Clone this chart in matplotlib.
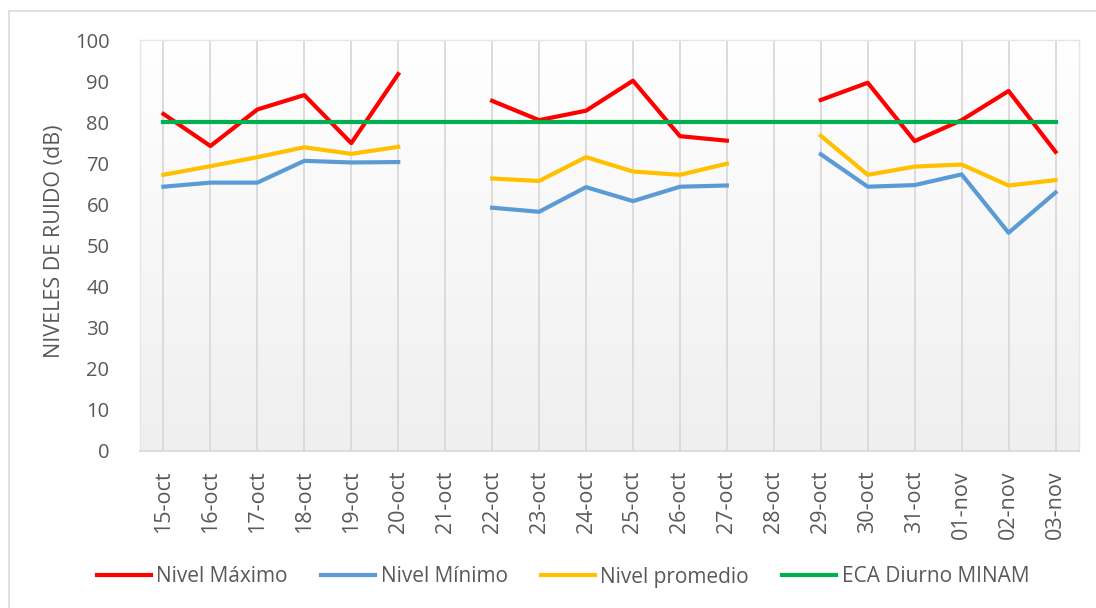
import numpy as np
import matplotlib.pyplot as plt
from matplotlib.patches import Rectangle
from matplotlib.colors import LinearSegmentedColormap

fechas = ["15-oct", "16-oct", "17-oct", "18-oct", "19-oct", "20-oct", "21-oct",
          "22-oct", "23-oct", "24-oct", "25-oct", "26-oct", "27-oct", "28-oct",
          "29-oct", "30-oct", "31-oct", "01-nov", "02-nov", "03-nov"]

nan = np.nan
nivel_maximo = [82.0, 74.2, 83.1, 86.6, 74.9, 91.7, nan,
                85.2, 80.5, 82.8, 90.1, 76.6, 75.5, nan,
                85.4, 89.6, 75.4, 80.5, 87.6, 72.8]
nivel_minimo = [64.3, 65.3, 65.3, 70.6, 70.2, 70.3, nan,
                59.2, 58.2, 64.2, 60.8, 64.3, 64.6, nan,
                72.2, 64.3, 64.7, 67.3, 53.1, 62.9]
nivel_promedio = [67.2, 69.3, 71.5, 73.9, 72.3, 74.0, nan,
                  66.3, 65.7, 71.5, 68.0, 67.2, 69.9, nan,
                  76.7, 67.2, 69.2, 69.7, 64.6, 65.9]
eca_diurno = [80] * len(fechas)

plt.rcParams['font.family'] = ['Open Sans', 'DejaVu Sans']
gris_texto = '#595959'
gris_linea = '#d9d9d9'

fig = plt.figure(figsize=(10.96, 6.08), dpi=100)
W, H = 1096, 608

# marco del grafico (solo se ven el borde izquierdo y superior)
fig.patches.append(Rectangle((9 / W, -0.1), 1.2, (H - 11) / H + 0.1,
                             transform=fig.transFigure, fill=False,
                             edgecolor=gris_linea, lw=1.2))

ax = fig.add_axes([140 / W, (H - 451) / H, 939 / W, 411 / H])

# fondo degradado del area de trazado
grad = np.linspace(1.0, 0.0, 256).reshape(-1, 1)
fondo = LinearSegmentedColormap.from_list('fondo', ['#efefef', '#ffffff'])
ax.imshow(grad, extent=[0, 1, 0, 1], transform=ax.transAxes, aspect='auto',
          cmap=fondo, zorder=0)

x = np.arange(len(fechas))
ax.plot(x, nivel_maximo, color='#ff0000', lw=3, label='Nivel Máximo', zorder=3)
ax.plot(x, nivel_minimo, color='#5b9bd5', lw=3, label='Nivel Mínimo', zorder=3)
ax.plot(x, nivel_promedio, color='#ffc000', lw=3, label='Nivel promedio', zorder=3)
ax.plot(x, eca_diurno, color='#00b050', lw=3, label='ECA Diurno MINAM', zorder=4)

ax.set_xlim(-0.5, len(fechas) - 0.5)
ax.set_ylim(0, 100)
ax.set_yticks(range(0, 101, 10))
ax.set_xticks(x)
ax.set_xticklabels(fechas, rotation=90)
ax.grid(axis='x', color=gris_linea, lw=1.3, zorder=1)
ax.set_axisbelow(True)

for lado in ['left', 'top', 'right']:
    ax.spines[lado].set_color('#e6e6e6')
    ax.spines[lado].set_linewidth(1)
ax.spines['bottom'].set_color(gris_linea)
ax.spines['bottom'].set_linewidth(1.3)

ax.tick_params(axis='both', length=0, colors=gris_texto)
ax.tick_params(axis='y', labelsize=14.5, pad=22)
ax.tick_params(axis='x', labelsize=15.5, pad=14)

ax.set_ylabel('NIVELES DE RUIDO (dB)', fontsize=15.5, color=gris_texto)
ax.yaxis.set_label_coords(-0.080, 0.51)

fig.legend(loc='center', bbox_to_anchor=(563 / W, (H - 577) / H), ncol=4,
           frameon=False, fontsize=15, handlelength=2.6, handletextpad=0.25,
           columnspacing=1.6, labelcolor=gris_texto)

fig.savefig('out.png', dpi=100)
